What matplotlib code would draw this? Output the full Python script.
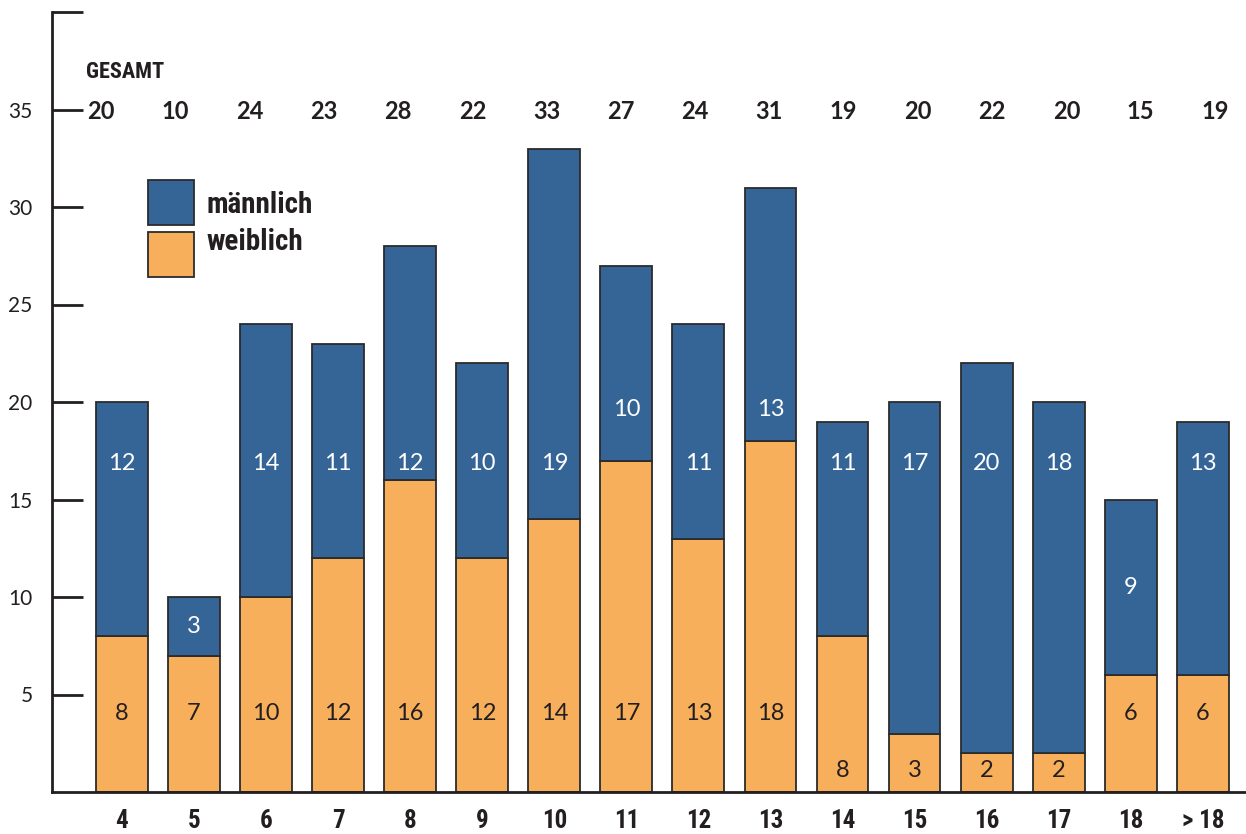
import numpy as np
import matplotlib.pyplot as plt
from matplotlib.patches import Rectangle

categories = ['4', '5', '6', '7', '8', '9', '10', '11', '12', '13', '14', '15', '16', '17', '18', '> 18']
weiblich = [8, 7, 10, 12, 16, 12, 14, 17, 13, 18, 8, 3, 2, 2, 6, 6]
maennlich = [12, 3, 14, 11, 12, 10, 19, 10, 11, 13, 11, 17, 20, 18, 9, 13]
gesamt = [w + m for w, m in zip(weiblich, maennlich)]
# groups whose female count is written near the bar foot
low_label_groups = ['14', '15', '16', '17']

BLUE = '#346596'
ORANGE = '#F8AF5B'
EDGE = '#2b2b2b'
TXT = '#231f20'
NUM_FONT = ['Lato', 'DejaVu Sans']
COND_FONT = ['Roboto Condensed', 'DejaVu Sans']

fig = plt.figure(figsize=(12.46, 8.34), dpi=100)
ax = fig.add_axes([52 / 1246, 42 / 834, 1 - 52 / 1246, 780 / 834])

x = np.arange(len(categories))
w = np.array(weiblich)
m = np.array(maennlich)

ax.bar(x, w, width=0.72, color=ORANGE, edgecolor=EDGE, linewidth=1.3, zorder=2)
ax.bar(x, m, bottom=w, width=0.72, color=BLUE, edgecolor=EDGE, linewidth=1.3, zorder=2)

# value labels inside the segments
for i, cat in enumerate(categories):
    wy = 1.1 if cat in low_label_groups else 4.0
    ax.text(x[i], wy, str(w[i]), ha='center', va='center', fontsize=17,
            family=NUM_FONT, color=TXT, zorder=3)
    tot = w[i] + m[i]
    if tot < 18.5:
        my = w[i] + m[i] / 2
    elif w[i] > 16.5:
        my = 19.6
    else:
        my = 16.85
    ax.text(x[i], my, str(m[i]), ha='center', va='center', fontsize=17,
            family=NUM_FONT, color='white', zorder=3)

# totals row
x_tot = np.linspace(-0.29, 15.17, len(x))
for xt, g in zip(x_tot, gesamt):
    ax.text(xt, 34.9, str(g), ha='center', va='center', fontsize=17,
            family=NUM_FONT, fontweight='bold', color=TXT)
ax.text(-0.5, 36.9, 'GESAMT', ha='left', va='center', fontsize=16,
        family=COND_FONT, fontweight='bold', color=TXT)

# legend
for y0, col, lab, ty in [(29.1, BLUE, 'männlich', 30.1), (26.4, ORANGE, 'weiblich', 28.2)]:
    ax.add_patch(Rectangle((0.36, y0), 0.64, 2.3, facecolor=col, edgecolor=EDGE,
                           linewidth=1.3, zorder=2))
    ax.text(1.18, ty, lab, ha='left', va='center', fontsize=21,
            family=COND_FONT, fontweight='bold', color=TXT)

ax.set_xlim(-0.971, 15.6)
ax.set_ylim(0, 40)
ax.set_yticks([5, 10, 15, 20, 25, 30, 35, 40])
ax.set_yticklabels(['5', '10', '15', '20', '25', '30', '35', ''], family=NUM_FONT,
                   fontsize=15, color=TXT)
ax.tick_params(axis='y', direction='in', length=22, width=2, color=TXT, pad=14)
ax.set_xticks(x)
ax.set_xticklabels(categories, family=COND_FONT, fontweight='bold', fontsize=18, color=TXT)
ax.tick_params(axis='x', length=0, pad=12)

for s in ['top', 'right']:
    ax.spines[s].set_visible(False)
for s in ['left', 'bottom']:
    ax.spines[s].set_linewidth(2)
    ax.spines[s].set_color(TXT)

fig.savefig('out.png', dpi=100)
